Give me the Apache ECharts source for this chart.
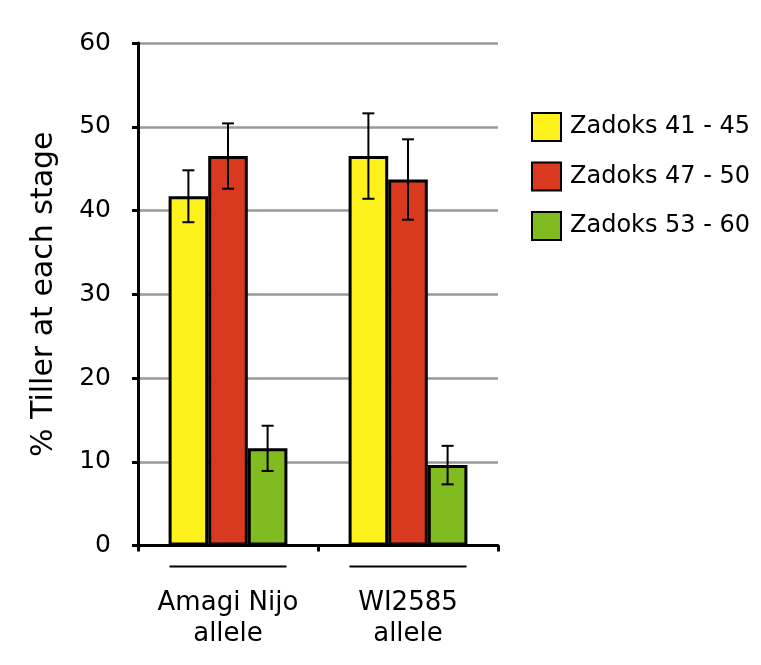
<!DOCTYPE html>
<html>
<head>
<meta charset="utf-8">
<script src="https://cdn.jsdelivr.net/npm/echarts@6/dist/echarts.min.js"></script>
<style>html,body{margin:0;padding:0;background:#fff;}#c{width:761px;height:665px;}</style>
</head>
<body>
<div id="c"></div>
<script>
const categories = ['Amagi Nijo\nallele', 'WI2585\nallele'];
const seriesNames = ['Zadoks 41 - 45', 'Zadoks 47 - 50', 'Zadoks 53 - 60'];
const z41 = [41.7, 46.5];
const z47 = [46.5, 43.7];
const z53 = [11.6, 9.6];
const z41err = [3.1, 5.1];
const z47err = [3.9, 4.8];
const z53err = [2.7, 2.3];
const yTicks = [0, 10, 20, 30, 40, 50, 60];

const colors = ['#fff21c', '#d9391e', '#80bb1f'];
const values = [z41, z47, z53];
const errs = [z41err, z47err, z53err];
const CAT_GAP = 0.34;
const FONT = 'DejaVu Sans, sans-serif';

const chart = echarts.init(document.getElementById('c'));

const barSeries = values.map((v, i) => ({
  name: seriesNames[i],
  type: 'bar',
  data: v,
  barGap: '0%',
  barCategoryGap: (CAT_GAP * 100) + '%',
  itemStyle: { color: colors[i], borderColor: '#000', borderWidth: 3 },
  z: 2
}));

const errSeries = values.map((v, i) => ({
  type: 'custom',
  name: 'err' + i,
  data: v.map((val, j) => [j, val, errs[i][j]]),
  clip: false,
  z: 5,
  renderItem: function (params, api) {
    const band = api.size([1, 0])[0];
    const bw = band * (1 - CAT_GAP) / 3;
    const c = api.coord([api.value(0), api.value(1)]);
    const x = c[0] + (i - 1) * bw;
    const yHi = api.coord([api.value(0), api.value(1) + api.value(2)])[1];
    const yLo = api.coord([api.value(0), api.value(1) - api.value(2)])[1];
    const cap = 6;
    const st = { stroke: '#000', lineWidth: 2 };
    return {
      type: 'group',
      children: [
        { type: 'line', shape: { x1: x, y1: yHi, x2: x, y2: yLo }, style: st },
        { type: 'line', shape: { x1: x - cap, y1: yHi, x2: x + cap, y2: yHi }, style: st },
        { type: 'line', shape: { x1: x - cap, y1: yLo, x2: x + cap, y2: yLo }, style: st }
      ]
    };
  },
  tooltip: { show: false }
}));

const underline = {
  type: 'custom',
  name: 'underline',
  data: categories.map((c, j) => [j, 0]),
  clip: false,
  z: 5,
  renderItem: function (params, api) {
    const band = api.size([1, 0])[0];
    const c = api.coord([api.value(0), 0]);
    const half = band * 0.325;
    const y = c[1] + 21;
    return {
      type: 'line',
      shape: { x1: c[0] - half, y1: y, x2: c[0] + half, y2: y },
      style: { stroke: '#000', lineWidth: 2 }
    };
  }
};

chart.setOption({
  animation: false,
  backgroundColor: '#fff',
  textStyle: { fontFamily: FONT },
  grid: { left: 138, right: 263, top: 43, bottom: 119.5 },
  legend: {
    data: seriesNames,
    orient: 'vertical',
    left: 531,
    top: 112,
    padding: 0,
    itemWidth: 29,
    itemHeight: 28,
    itemGap: 19.5,
    icon: 'rect',
    itemStyle: { borderColor: '#000', borderWidth: 2 },
    textStyle: { fontSize: 24, color: '#000', fontFamily: FONT, padding: [0, 0, 0, 4] }
  },
  xAxis: {
    type: 'category',
    data: categories,
    axisLine: { lineStyle: { color: '#000', width: 3 } },
    axisTick: { show: true, length: 6, lineStyle: { color: '#000', width: 3 } },
    axisLabel: { interval: 0, fontSize: 26, color: '#000', lineHeight: 31, margin: 42, fontFamily: FONT },
    splitLine: { show: false }
  },
  yAxis: {
    type: 'value',
    min: 0,
    max: 60,
    interval: 10,
    name: '% Tiller at each stage',
    nameLocation: 'middle',
    nameGap: 79,
    nameRotate: 90,
    nameTextStyle: { fontSize: 30, color: '#000', fontFamily: FONT },
    axisLine: { show: true, lineStyle: { color: '#000', width: 3 } },
    axisTick: { show: true, length: 6, lineStyle: { color: '#000', width: 3 } },
    axisLabel: {
      fontSize: 25, color: '#000', margin: 27, fontFamily: FONT,
      formatter: function (v) { return yTicks.indexOf(v) >= 0 ? String(v) : ''; }
    },
    splitLine: { show: true, lineStyle: { color: '#999', width: 2.5 } }
  },
  series: barSeries.concat(errSeries, [underline])
});
</script>
</body>
</html>
